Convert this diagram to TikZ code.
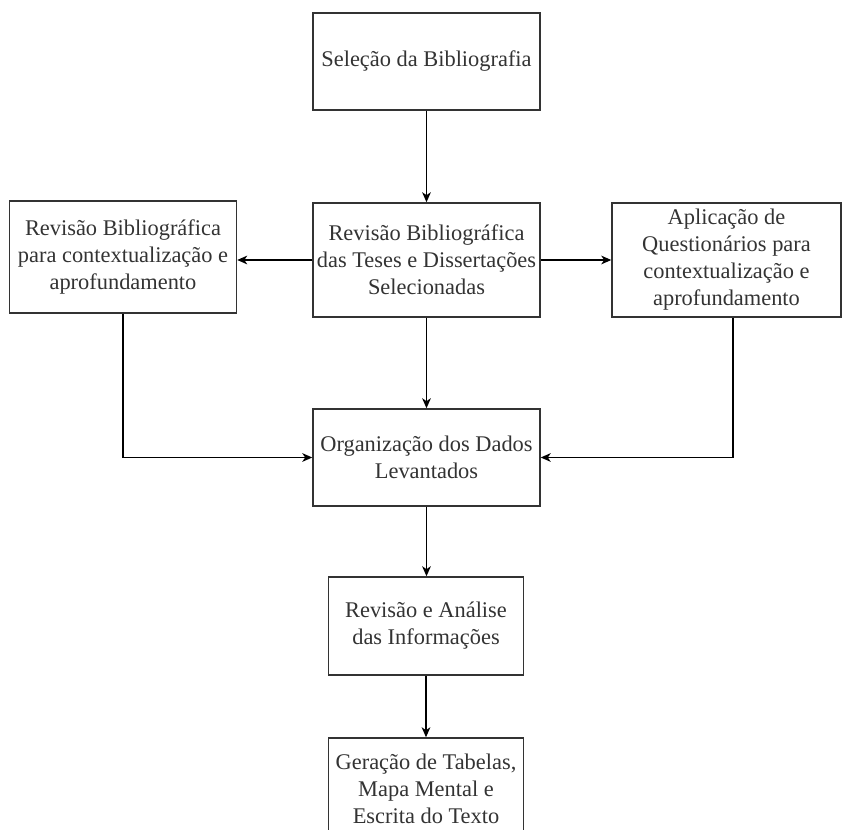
\documentclass[tikz,border=0pt]{standalone}
\usepackage{fontspec}
\setmainfont{Liberation Serif}
\usetikzlibrary{arrows.meta}

\begin{document}
\begin{tikzpicture}[->,>={Stealth[length=7.5pt,width=6.5pt,inset=2.2pt]},x=0.75pt,y=-0.75pt,
  line width=1.1pt,
  main node/.style={rectangle,draw=black!80,text=black!80,align=center,inner sep=0pt,
    font=\fontsize{16.8}{20.3}\selectfont,minimum width=170.25pt,minimum height=72.75pt}]
  \useasboundingbox (0,0) rectangle (843,830);

  \node[main node] (sel) at (426.5,61.5) {Seleção da Bibliografia};
  \node[main node, minimum height=85.5pt] (rev) at (426.5,260)
    {Revisão Bibliográfica\\das Teses e Dissertações\\Selecionadas};
  \node[main node, minimum height=84pt] (revl) at (123,257)
    {Revisão Bibliográfica\\para contextualização e\\aprofundamento};
  \node[main node, minimum height=85.5pt, minimum width=171.75pt] (apl) at (726.5,260)
    {Aplicação de\\Questionários para\\contextualização e\\aprofundamento};
  \node[main node] (org) at (426.5,457.5) {Organização dos Dados\\Levantados};
  \node[main node, minimum width=146.25pt, minimum height=73.5pt] (ana) at (426,626)
    {Revisão e Análise\\das Informações};
  \node[main node, minimum width=146.25pt, minimum height=76.5pt] (ger) at (426,789)
    {Geração de Tabelas,\\Mapa Mental e\\Escrita do Texto};

  \path
    (sel) edge (rev)
    (rev.west) edge (rev.west -| revl.east)
    (rev.east) edge (rev.east -| apl.west)
    (rev) edge (org)
    (org.south) edge (org.south |- ana.north)
    (ana) edge (ger);

  \draw (revl.south) |- (org.west);
  \draw ([xshift=4.9pt]apl.south) |- (org.east);
\end{tikzpicture}
\end{document}
